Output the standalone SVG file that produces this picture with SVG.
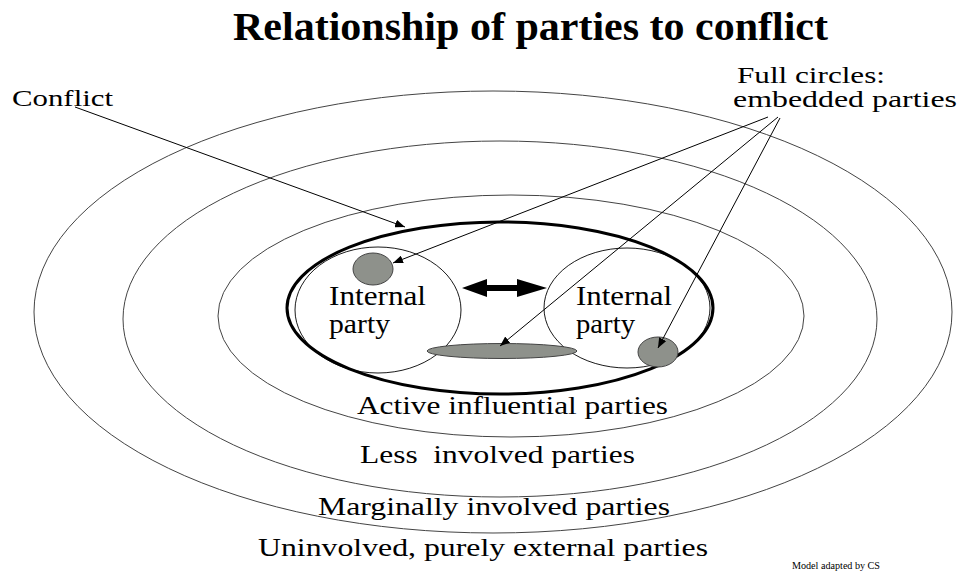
<svg xmlns="http://www.w3.org/2000/svg" width="959" height="572" viewBox="0 0 959 572">
<style>
.ring{fill:none;stroke:#444;stroke-width:1}
.thin{fill:none;stroke:#000;stroke-width:0.9}
.gray{fill:#8e918b;stroke:#444;stroke-width:1}
.t{font-family:"Liberation Serif","Times New Roman",serif;fill:#000;white-space:pre}
.lbl{font-size:26px}
.ip{font-size:28px}
.conn{fill:none;stroke:#000;stroke-width:1;marker-end:url(#ah)}
</style>
<defs>
<marker id="ah" viewBox="0 0 10 8" refX="10" refY="4" markerWidth="10" markerHeight="8" markerUnits="userSpaceOnUse" orient="auto">
<path d="M0,0 L10,4 L0,8 Z" fill="#000"/>
</marker>
</defs>
<rect width="959" height="572" fill="#fff"/>
<g id="title"><text class="t" x="233" y="40" font-size="39" font-weight="bold" textLength="595" lengthAdjust="spacingAndGlyphs">Relationship of parties to conflict</text></g>
<g id="ring-uninvolved"><ellipse class="ring" cx="493" cy="312" rx="459" ry="221"/></g>
<g id="ring-marginal"><ellipse class="ring" cx="500" cy="319" rx="377" ry="178"/></g>
<g id="ring-less"><ellipse class="ring" cx="511" cy="316" rx="293" ry="121"/></g>
<g id="conflict-ellipse"><ellipse cx="500" cy="308" rx="213" ry="86" fill="none" stroke="#000" stroke-width="3"/></g>
<g id="party-left">
<ellipse class="thin" cx="378" cy="310" rx="83" ry="63"/>
<text class="t ip" x="329" y="305" textLength="97" lengthAdjust="spacingAndGlyphs">Internal</text>
<text class="t ip" x="329" y="333" textLength="61" lengthAdjust="spacingAndGlyphs">party</text>
</g>
<g id="party-right">
<ellipse class="thin" cx="627" cy="308" rx="83" ry="60"/>
<text class="t ip" x="576" y="305" textLength="96" lengthAdjust="spacingAndGlyphs">Internal</text>
<text class="t ip" x="576" y="333" textLength="59" lengthAdjust="spacingAndGlyphs">party</text>
</g>
<g id="embedded-left"><ellipse class="gray" cx="373" cy="269" rx="20" ry="16"/></g>
<g id="embedded-bottom"><ellipse class="gray" cx="502" cy="351" rx="75" ry="7.5"/></g>
<g id="embedded-right"><ellipse class="gray" cx="658" cy="352" rx="20" ry="15"/></g>
<g id="double-arrow"><path d="M462,288 L487,279 L487,285 L517,285 L517,279 L547,288 L517,297 L517,291 L487,291 L487,297 Z" fill="#000"/></g>
<g id="label-conflict"><text class="t" x="12" y="106" font-size="23" textLength="101" lengthAdjust="spacingAndGlyphs">Conflict</text></g>
<g id="label-full">
<text class="t" x="737" y="83" font-size="23" textLength="148" lengthAdjust="spacingAndGlyphs">Full circles:</text>
<text class="t" x="733" y="107" font-size="23" textLength="224" lengthAdjust="spacingAndGlyphs">embedded parties</text>
</g>
<g id="label-active"><text class="t lbl" x="357" y="414" textLength="311" lengthAdjust="spacingAndGlyphs">Active influential parties</text></g>
<g id="label-less"><text class="t lbl" x="360" y="463" textLength="275" lengthAdjust="spacingAndGlyphs">Less  involved parties</text></g>
<g id="label-marginal"><text class="t lbl" x="318" y="515" textLength="352" lengthAdjust="spacingAndGlyphs">Marginally involved parties</text></g>
<g id="label-uninvolved"><text class="t lbl" x="258" y="556" textLength="450" lengthAdjust="spacingAndGlyphs">Uninvolved, purely external parties</text></g>
<g id="credit"><text class="t" x="792" y="569" font-size="10" textLength="88" lengthAdjust="spacingAndGlyphs">Model adapted by CS</text></g>
<g id="connectors">
<path class="conn" d="M75,107 L405,227"/>
<path class="conn" d="M768,117 L393,263"/>
<path class="conn" d="M778,117 L500,346"/>
<path class="conn" d="M780,118 L658,348"/>
</g>
</svg>
